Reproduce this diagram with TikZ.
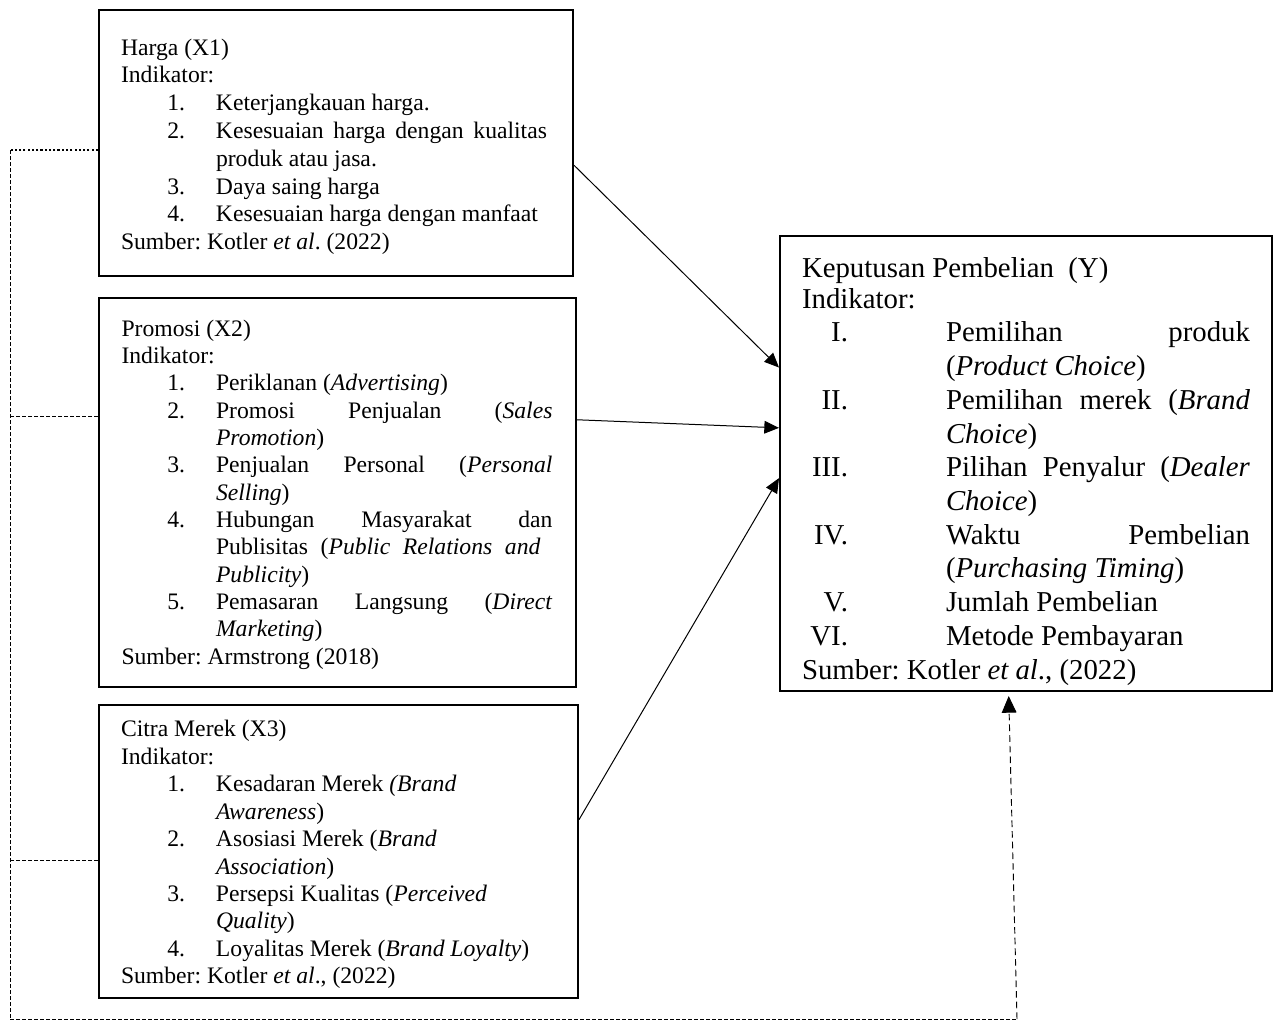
\documentclass[tikz,border=0pt]{standalone}
\usepackage{fontspec}
\setmainfont{Liberation Serif}
\usetikzlibrary{arrows.meta,calc}
\frenchspacing
\newlength\itemind
\newlength\itemgap
\newcommand\itm[1]{\par\noindent\leftskip=\itemind\relax\llap{#1\hspace{\itemgap}}\ignorespaces}
\newcommand\nolist{\par\leftskip=0pt\relax}
\tikzset{
  box/.style={draw, line width=1.5pt, inner sep=0pt, rectangle},
  txt/.style={anchor=base west, inner sep=0pt, outer sep=0pt, text width=#1, align=justify},
  link/.style={line width=0.75pt, -{Triangle[length=11pt,width=9.5pt]}},
  dotline/.style={line width=1.6pt, dash pattern=on 1.6pt off 1.6pt},
  dashline/.style={line width=0.6pt, dash pattern=on 3pt off 1.5pt},
  longdash/.style={line width=0.7pt, dash pattern=on 5pt off 3pt, -{Triangle[length=12.5pt,width=11pt]}},
}
\begin{document}
\begin{tikzpicture}[x=0.75pt,y=-0.75pt]
\useasboundingbox (0,0) rectangle (1281,1021);
% boxes
\node[box, minimum width=355.5pt, minimum height=199.5pt] (b1) at (336,143) {};
\node[box, minimum width=357.75pt, minimum height=291.75pt] (b2) at (337.5,492.5) {};
\node[box, minimum width=359.25pt, minimum height=219.75pt] (b3) at (338.5,851.5) {};
\node[box, minimum width=369pt, minimum height=341.25pt] (rb) at (1026,463.5) {};

% texts
\node[txt=319.5pt] (t1) at (121,55) {\fontsize{17.74pt}{20.85pt}\selectfont
 \setlength\itemind{71.25pt}\setlength\itemgap{23.25pt}\rightskip=0pt\relax\parfillskip=0pt plus 1fil\relax
 Harga (X1)\par Indikator:
 \itm{1.}Keterjangkauan harga.
 \itm{2.}Kesesuaian harga dengan kualitas\linebreak produk atau jasa.
 \itm{3.}Daya saing harga
 \itm{4.}Kesesuaian harga dengan manfaat
 \nolist Sumber: Kotler \textit{et al}. (2022)\par};

\node[txt=323.25pt] (t2) at (121.5,336) {\fontsize{17.74pt}{20.5pt}\selectfont
 \setlength\itemind{70.9pt}\setlength\itemgap{23.25pt}\rightskip=0pt\relax\parfillskip=0pt plus 1fil\relax
 Promosi (X2)\par Indikator:
 \itm{1.}Periklanan (\textit{Advertising})
 \itm{2.}Promosi Penjualan (\textit{Sales}\linebreak \textit{Promotion})
 \itm{3.}Penjualan Personal (\textit{Personal}\linebreak \textit{Selling})
 \itm{4.}Hubungan Masyarakat dan\linebreak Publisitas (\textit{Public Relations and}\hspace*{9pt}\linebreak \textit{Publicity})
 \itm{5.}Pemasaran Langsung (\textit{Direct}\linebreak \textit{Marketing})
 \nolist Sumber: Armstrong (2018)\par};

\node[txt=345pt] (t3) at (121,736.7) {\fontsize{17.74pt}{20.6pt}\selectfont
 \setlength\itemind{71.25pt}\setlength\itemgap{23.25pt}\rightskip=0pt plus 1fil\relax\parfillskip=0pt plus 1fil\relax
 Citra Merek (X3)\par Indikator:
 \itm{1.}Kesadaran Merek \textit{(Brand}\linebreak \textit{Awareness})
 \itm{2.}Asosiasi Merek (\textit{Brand}\linebreak \textit{Association})
 \itm{3.}Persepsi Kualitas (\textit{Perceived}\linebreak \textit{Quality})
 \itm{4.}Loyalitas Merek (\textit{Brand Loyalty})
 \nolist Sumber: Kotler \textit{et al}., (2022)\par};

\node[txt=336pt] (tr) at (802,277.3) {\fontsize{21.6pt}{25.3pt}\selectfont
 \setlength\itemind{108pt}\setlength\itemgap{73.5pt}\rightskip=0pt\relax\parfillskip=0pt plus 1fil\relax
 Keputusan Pembelian\ \ (Y)\par\vspace{-2.2pt}Indikator:
 \itm{I.}Pemilihan produk\linebreak (\textit{Product Choice})
 \itm{II.}Pemilihan merek (\textit{Brand}\linebreak \textit{Choice})
 \itm{III.}Pilihan Penyalur (\textit{Dealer}\linebreak \textit{Choice})
 \itm{IV.}Waktu Pembelian\linebreak (\textit{Purchasing Timing})
 \itm{V.}Jumlah Pembelian
 \itm{VI.}Metode Pembayaran
 \nolist Sumber: Kotler \textit{et al}., (2022)\par};

% arrows
\coordinate (a1s) at ($(b1.north east)!0.583!(b1.south east)$);
\coordinate (a1e) at ($(rb.north west)!0.29!(rb.south west)$);
\coordinate (a2s) at ($(b2.north east)!0.314!(b2.south east)$);
\coordinate (a2e) at ($(rb.north west)!0.422!(rb.south west)$);
\coordinate (a3s) at ($(b3.north east)!0.392!(b3.south east)$);
\coordinate (a3e) at ($(rb.north west)!0.532!(rb.south west)$);
\draw[link] (a1s) -- (a1e);
\draw[link] (a2s) -- (a2e);
\draw[link] (a3s) -- (a3e);

% left dashed connector
\coordinate (c0) at (10,150);
\coordinate (c1) at (10,1019);
\coordinate (c2) at (1017,1019);
\coordinate (p1) at ($(b1.north west)!0.526!(b1.south west)$);
\coordinate (p2) at ($(b2.north west)!0.306!(b2.south west)$);
\coordinate (p3) at ($(b3.north west)!0.529!(b3.south west)$);
\coordinate (rbot) at ($(rb.south west)!0.465!(rb.south east)$);
\coordinate (rtip) at ([yshift=-3pt]rbot);
\draw[dotline] (p1) -- (p1 -| c0);
\draw[dashline] (c0) -- (c1);
\draw[dashline] (p2) -- (p2 -| c0);
\draw[dashline] (p3) -- (p3 -| c0);
\draw[dashline] (c1) -- (c2);
\draw[longdash] (c2) -- (rtip);
\end{tikzpicture}
\end{document}
